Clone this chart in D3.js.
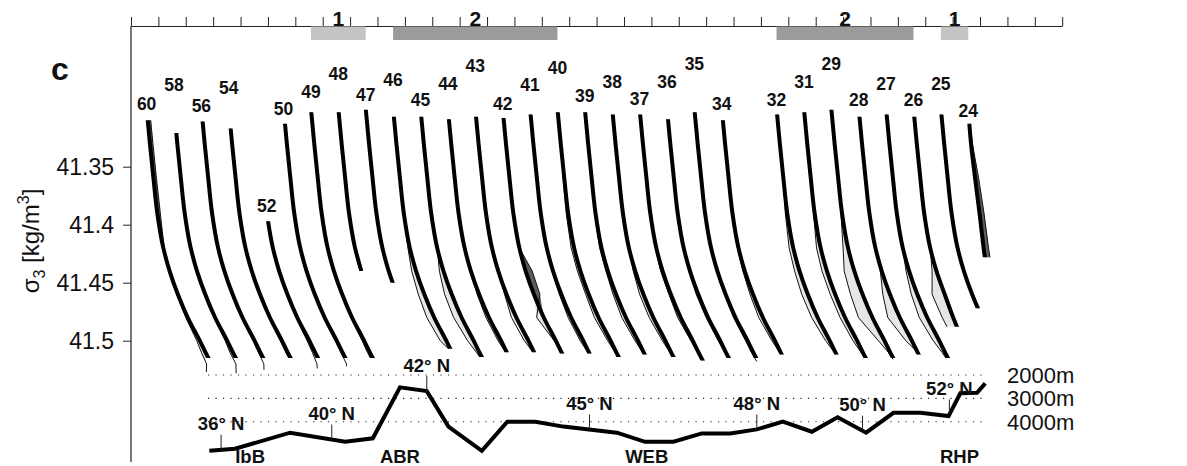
<!DOCTYPE html>
<html>
<head>
<meta charset="utf-8">
<script src="https://cdn.jsdelivr.net/npm/d3@7"></script>
<style>
  html, body { margin: 0; padding: 0; background: #fff; }
  svg { display: block; font-family: "Liberation Sans", Arial, Helvetica, sans-serif; }
</style>
</head>
<body>
<svg id="chart" width="1187" height="466"></svg>
<script>
// σ3 levels (kg/m3) at which every profile is tabulated
const sigmaLevels = [41.30, 41.33, 41.36, 41.39, 41.42, 41.44, 41.46, 41.48, 41.50, 41.51, 41.52, 41.53];

// stations along the section (south to north) and their slot on the station axis
const stationIds  = [60, 58, 56, 54, 52, 50, 49, 48, 47, 46, 45, 44, 43, 42, 41, 40, 39, 38, 37, 36, 35, 34, 32, 31, 29, 28, 27, 26, 25, 24];
const stationSlot = [0, 1, 2, 3, 4, 5, 6, 7, 8, 9, 10, 11, 12, 13, 14, 15, 16, 17, 18, 19, 20, 21, 23, 24, 25, 26, 27, 28, 29, 30];

// σ3 range covered by each profile (thick = recent occupation, thin = earlier one)
const sigmaTop    = [41.310, 41.321, 41.311, 41.317, 41.397, 41.313, 41.303, 41.303, 41.301, 41.307, 41.307, 41.309, 41.307, 41.308, 41.305, 41.303, 41.303, 41.305, 41.305, 41.309, 41.303, 41.310, 41.305, 41.303, 41.301, 41.307, 41.305, 41.307, 41.305, 41.313];
const sigmaBottom = [41.515, 41.515, 41.515, 41.515, 41.515, 41.515, 41.515, 41.440, 41.450, 41.507, 41.514, 41.510, 41.510, 41.511, 41.511, 41.514, 41.512, 41.514, 41.517, 41.515, 41.515, 41.512, 41.512, 41.515, 41.515, 41.512, 41.515, 41.488, 41.472, 41.428];
const thinBottom  = [41.527, 41.528, 41.525, 41.515, 41.524, 41.522, 41.515, 41.440, 41.450, 41.507, 41.514, 41.510, 41.510, 41.511, 41.511, 41.514, 41.512, 41.514, 41.517, 41.515, 41.518, 41.512, 41.512, 41.515, 41.516, 41.512, 41.515, 41.488, 41.472, 41.428];

// profile value at each σ3 level, in station-spacing units (one row per station)
const thickProfiles = [
  [0, 0.12, 0.25, 0.39, 0.61, 0.84, 1.14, 1.50, 1.94, 2.15, 2.37, null],
  [0, 0.12, 0.25, 0.39, 0.61, 0.84, 1.14, 1.50, 1.94, 2.15, 2.37, null],
  [0, 0.12, 0.25, 0.39, 0.61, 0.84, 1.14, 1.50, 1.94, 2.15, 2.37, null],
  [0, 0.12, 0.25, 0.39, 0.61, 0.84, 1.14, 1.50, 1.94, 2.15, 2.37, null],
  [null, null, null, 0.39, 0.61, 0.84, 1.14, 1.50, 1.94, 2.15, 2.37, null],
  [0, 0.12, 0.25, 0.39, 0.61, 0.84, 1.14, 1.50, 1.94, 2.15, 2.37, null],
  [0, 0.12, 0.25, 0.39, 0.61, 0.84, 1.14, 1.50, 1.94, 2.15, 2.37, null],
  [0, 0.12, 0.25, 0.39, 0.61, 0.84, null, null, null, null, null, null],
  [0, 0.12, 0.25, 0.39, 0.61, 0.84, 1.14, null, null, null, null, null],
  [0, 0.12, 0.25, 0.39, 0.61, 0.84, 1.14, 1.50, 1.94, 2.15, 2.37, null],
  [0, 0.12, 0.25, 0.39, 0.61, 0.84, 1.14, 1.50, 1.94, 2.15, 2.37, null],
  [0, 0.12, 0.25, 0.39, 0.61, 0.84, 1.14, 1.50, 1.94, 2.15, 2.37, null],
  [0, 0.12, 0.25, 0.39, 0.61, 0.84, 1.14, 1.50, 1.94, 2.15, 2.37, null],
  [0, 0.12, 0.25, 0.39, 0.61, 0.84, 1.14, 1.50, 1.94, 2.15, 2.37, null],
  [0, 0.12, 0.25, 0.39, 0.61, 0.84, 1.14, 1.50, 1.94, 2.15, 2.37, null],
  [0, 0.12, 0.25, 0.39, 0.61, 0.84, 1.14, 1.50, 1.94, 2.15, 2.37, null],
  [0, 0.12, 0.25, 0.39, 0.61, 0.84, 1.14, 1.50, 1.94, 2.15, 2.37, null],
  [0, 0.12, 0.25, 0.39, 0.61, 0.84, 1.14, 1.50, 1.94, 2.15, 2.37, null],
  [0, 0.12, 0.25, 0.39, 0.61, 0.84, 1.14, 1.50, 1.94, 2.15, 2.37, null],
  [0, 0.12, 0.25, 0.39, 0.61, 0.84, 1.14, 1.50, 1.94, 2.15, 2.37, null],
  [0, 0.12, 0.25, 0.39, 0.61, 0.84, 1.14, 1.50, 1.94, 2.15, 2.37, null],
  [0, 0.12, 0.25, 0.39, 0.61, 0.84, 1.14, 1.50, 1.94, 2.15, 2.37, null],
  [0, 0.12, 0.25, 0.39, 0.61, 0.84, 1.14, 1.50, 1.94, 2.15, 2.37, null],
  [0, 0.12, 0.25, 0.39, 0.61, 0.84, 1.14, 1.50, 1.94, 2.15, 2.37, null],
  [0, 0.12, 0.25, 0.39, 0.61, 0.84, 1.14, 1.50, 1.94, 2.15, 2.37, null],
  [0, 0.12, 0.25, 0.39, 0.61, 0.84, 1.14, 1.50, 1.94, 2.15, 2.37, null],
  [0, 0.12, 0.25, 0.39, 0.61, 0.84, 1.14, 1.50, 1.94, 2.15, 2.37, null],
  [0, 0.12, 0.25, 0.39, 0.61, 0.84, 1.14, 1.45, 1.80, null, null, null],
  [0, 0.12, 0.25, 0.39, 0.61, 0.84, 1.14, 1.50, null, null, null, null],
  [0, 0.10, 0.25, 0.41, 0.56, 0.67, null, null, null, null, null, null]
];
const thinProfiles = [
  [0.11, 0.23, 0.36, 0.50, 0.64, 0.84, 1.10, 1.43, 1.83, 2.00, 2.19, 2.18],
  [0, 0.12, 0.25, 0.39, 0.61, 0.84, 1.10, 1.46, 1.87, 2.04, 2.26, 2.27],
  [0, 0.12, 0.25, 0.39, 0.61, 0.84, 1.13, 1.47, 1.89, 2.08, 2.28, 2.29],
  [0, 0.12, 0.25, 0.39, 0.61, 0.84, 1.13, 1.47, 1.88, 2.08, 2.30, null],
  [null, null, null, 0.39, 0.61, 0.84, 1.12, 1.45, 1.86, 2.05, 2.22, 2.24],
  [0, 0.12, 0.25, 0.39, 0.61, 0.84, 1.13, 1.47, 1.89, 2.09, 2.30, 2.31],
  [0, 0.12, 0.25, 0.39, 0.61, 0.84, 1.13, 1.46, 1.87, 2.06, 2.28, null],
  [0, 0.12, 0.25, 0.39, 0.61, 0.84, null, null, null, null, null, null],
  [0, 0.12, 0.25, 0.39, 0.61, 0.84, 1.14, null, null, null, null, null],
  [0, 0.12, 0.25, 0.39, 0.54, 0.68, 0.92, 1.23, 1.72, 2.15, 2.37, null],
  [0, 0.12, 0.25, 0.39, 0.61, 0.69, 0.88, 1.21, 1.72, 2.04, 2.33, null],
  [0, 0.12, 0.25, 0.39, 0.61, 0.84, 1.07, 1.39, 1.83, 2.11, 2.37, null],
  [0, 0.12, 0.25, 0.39, 0.61, 0.84, 1.07, 1.32, 1.79, 2.11, 2.37, null],
  [0, 0.12, 0.25, 0.39, 0.61, 1.08, 1.36, 1.24, 1.88, 2.15, 2.37, null],
  [0, 0.12, 0.25, 0.39, 0.61, 0.80, 1.07, 1.39, 1.83, 2.11, 2.37, null],
  [0, 0.12, 0.21, 0.32, 0.50, 0.73, 1.03, 1.35, 1.83, 2.11, 2.37, null],
  [0, 0.12, 0.25, 0.35, 0.54, 0.77, 1.03, 1.35, 1.83, 2.11, 2.37, null],
  [0, 0.12, 0.25, 0.39, 0.61, 0.77, 1.00, 1.35, 1.83, 2.11, 2.37, null],
  [0, 0.12, 0.25, 0.39, 0.57, 0.77, 1.07, 1.39, 1.87, 2.11, 2.37, null],
  [0, 0.12, 0.25, 0.39, 0.61, 0.80, 1.07, 1.43, 1.87, 2.11, 2.37, null],
  [0, 0.12, 0.25, 0.39, 0.61, 0.84, 1.10, 1.43, 1.87, 2.08, 2.33, null],
  [0, 0.12, 0.25, 0.39, 0.57, 0.77, 1.03, 1.35, 1.83, 2.11, 2.37, null],
  [0, 0.12, 0.25, 0.32, 0.46, 0.66, 0.92, 1.28, 1.79, 2.11, 2.37, null],
  [0, 0.12, 0.25, 0.35, 0.46, 0.66, 0.96, 1.32, 1.79, 2.08, 2.37, null],
  [0, 0.12, 0.25, 0.35, 0.43, 0.47, 0.70, 0.99, 1.72, 2.08, 2.37, null],
  [0, 0.12, 0.25, 0.39, 0.61, 0.79, 0.88, 1.06, 1.72, 2.15, 2.37, null],
  [0, 0.12, 0.25, 0.39, 0.61, 0.73, 0.92, 1.21, 1.72, 2.04, 2.33, null],
  [0, 0.12, 0.25, 0.39, 0.61, 0.68, 0.68, 1.05, 1.48, null, null, null],
  [0, 0.12, 0.25, 0.39, 0.61, 0.84, 1.14, 1.50, null, null, null, null],
  [0, 0.15, 0.38, 0.575, 0.74, 0.87, null, null, null, null, null, null]
];

// σ3 at which each station number is written
const labelSigma = [41.301, 41.285, 41.303, 41.287, 41.389, 41.305, 41.291, 41.275, 41.293, 41.280, 41.298, 41.284, 41.268, 41.301, 41.285, 41.270, 41.294, 41.282, 41.297, 41.282, 41.267, 41.301, 41.298, 41.282, 41.267, 41.298, 41.284, 41.298, 41.284, 41.307];

// station groups marked along the top axis
const groupFrom  = [49, 46, 32, 25];
const groupTo    = [47, 40, 26, 24];
const groupClass = [1, 2, 2, 1];

// bottom topography along the section (station-axis position, depth in m)
const bathyPos   = [2.86, 3.80, 5.81, 7.82, 8.83, 9.82, 10.80, 11.59, 12.81, 13.74, 14.76, 15.79, 17.74, 18.77, 19.81, 20.84, 21.88, 22.85, 23.80, 24.86, 25.80, 26.84, 27.84, 28.82, 29.85, 30.28, 30.89, 31.19];
const bathyDepth = [5240, 5160, 4470, 4860, 4710, 2530, 2690, 4210, 5250, 4000, 4000, 4210, 4470, 4860, 4860, 4500, 4500, 4330, 4000, 4430, 3810, 4470, 3620, 3620, 3760, 2780, 2760, 2360];

// latitude marks on the topography
const latPos    = [3.29, 7.33, 10.80, 16.74, 22.85, 26.71, 29.88];
const latLabels = ["36° N", "40° N", "42° N", "45° N", "48° N", "50° N", "52° N"];

// reference depths drawn as dotted lines
const depthLines  = [2000, 3000, 4000];
const depthLabels = ["2000m", "3000m", "4000m"];

// basins and ridges along the section
const regionNames = ["IbB", "ABR", "WEB", "RHP"];
const regionPos   = [4.35, 9.82, 18.83, 30.25];

const yTicks = [41.35, 41.4, 41.45, 41.5];

// ---------------------------------------------------------------------------
const W = 1187, H = 466;
const svg = d3.select("#chart");
const defs = svg.append("defs");

const profileOrigin = 0.57;           // profiles start just right of their station tick
const xSlot  = d3.scaleLinear().domain([0, 34]).range([131, 1062.2]);
const ySig   = d3.scaleLinear().domain([41.35, 41.5]).range([166.7, 340.7]);
const yDepth = d3.scaleLinear().domain([2000, 4000]).range([375, 421.7]);
const bathyAt = d3.scaleLinear().domain(bathyPos).range(bathyDepth);

const LIGHT = "#e6e6e6", DARK = "#5c5c5c";

// station axis along the top
svg.append("g")
  .attr("transform", "translate(0,26)")
  .call(d3.axisTop(xSlot).tickValues(d3.range(0, 35)).tickSize(9).tickSizeOuter(0).tickFormat(""))
  .call(g => g.select(".domain").attr("stroke", "#222").attr("stroke-width", 1))
  .call(g => g.selectAll(".tick line").attr("stroke", "#222"));

// group bars under the top axis
groupFrom.forEach((s, i) => {
  const a = stationSlot[stationIds.indexOf(s)] + profileOrigin;
  const b = stationSlot[stationIds.indexOf(groupTo[i])] + profileOrigin;
  const x0 = xSlot(a), x1 = xSlot(b);
  svg.append("rect")
    .attr("x", x0).attr("y", 26.5).attr("width", x1 - x0).attr("height", 13.5)
    .attr("fill", groupClass[i] === 1 ? "#c4c4c4" : "#9b9b9b");
  svg.append("text")
    .attr("x", (x0 + x1) / 2).attr("y", 26)
    .attr("text-anchor", "middle")
    .attr("font-size", 21).attr("font-weight", "bold").attr("fill", "#111")
    .text(groupClass[i]);
});

// left frame line
svg.append("line")
  .attr("x1", 131).attr("x2", 131).attr("y1", 26).attr("y2", 462)
  .attr("stroke", "#555").attr("stroke-width", 1.6);

// σ3 axis
svg.append("g")
  .attr("transform", "translate(131,0)")
  .call(d3.axisLeft(ySig).tickValues(yTicks).tickSize(8).tickPadding(9)
        .tickFormat(d => String(+d.toFixed(2))))
  .call(g => g.select(".domain").remove())
  .call(g => g.selectAll(".tick line").attr("stroke", "#222"))
  .call(g => g.selectAll(".tick text")
        .attr("font-size", 23).attr("fill", "#111")
        .attr("font-family", "Liberation Sans, Arial, sans-serif"));

// axis title
const yt = svg.append("text")
  .attr("transform", "translate(39,241) rotate(-90)")
  .attr("text-anchor", "middle")
  .attr("font-size", 24).attr("fill", "#111");
yt.append("tspan").text("σ");
yt.append("tspan").attr("dy", 6).attr("font-size", 16).text("3");
yt.append("tspan").attr("dy", -6).text(" [kg/m");
yt.append("tspan").attr("dy", -10).attr("font-size", 16).text("3");
yt.append("tspan").attr("dy", 10).text("]");

// panel letter
svg.append("text")
  .attr("x", 51).attr("y", 80)
  .attr("font-size", 32).attr("font-weight", "bold").attr("fill", "#111")
  .text("c");

// ---- profiles ----
const gProf = svg.append("g");

function clipRect(id, s0, s1) {
  defs.append("clipPath").attr("id", id)
    .append("rect")
    .attr("x", 0).attr("width", W)
    .attr("y", ySig(s0)).attr("height", ySig(s1) - ySig(s0));
  return `url(#${id})`;
}

stationIds.forEach((id, i) => {
  const base = stationSlot[i] + profileOrigin;
  const thick = thickProfiles[i], thin = thinProfiles[i];
  const pts = sigmaLevels.map((s, j) => ({ s, a: thick[j], b: thin[j] }));
  const g = gProf.append("g");

  const fillBottom = Math.min(sigmaBottom[i], thinBottom[i]);
  const both = d => d.a != null && d.b != null;

  const gFill = g.append("g").attr("clip-path", clipRect(`f${id}`, sigmaTop[i], fillBottom));
  // earlier profile to the left of the recent one
  gFill.append("path")
    .attr("d", d3.area().defined(both)
      .y(d => ySig(d.s))
      .x0(d => xSlot(base + Math.min(d.a, d.b)))
      .x1(d => xSlot(base + d.a))(pts))
    .attr("fill", LIGHT).attr("stroke", "none");
  // earlier profile to the right of the recent one
  gFill.append("path")
    .attr("d", d3.area().defined(both)
      .y(d => ySig(d.s))
      .x0(d => xSlot(base + d.a))
      .x1(d => xSlot(base + Math.max(d.a, d.b)))(pts))
    .attr("fill", DARK).attr("stroke", "none");

  g.append("path")
    .attr("clip-path", clipRect(`t${id}`, sigmaTop[i], thinBottom[i]))
    .attr("d", d3.line().defined(d => d.b != null)
      .x(d => xSlot(base + d.b)).y(d => ySig(d.s))(pts))
    .attr("fill", "none").attr("stroke", "#111").attr("stroke-width", 1);

  g.append("path")
    .attr("clip-path", clipRect(`k${id}`, sigmaTop[i], sigmaBottom[i]))
    .attr("d", d3.line().defined(d => d.a != null)
      .curve(d3.curveMonotoneY)
      .x(d => xSlot(base + d.a)).y(d => ySig(d.s))(pts))
    .attr("fill", "none").attr("stroke", "#000").attr("stroke-width", 4);

  const firstVal = thick.find(v => v != null);
  svg.append("text")
    .attr("x", xSlot(base + firstVal)).attr("y", ySig(labelSigma[i]))
    .attr("text-anchor", "middle")
    .attr("font-size", 17.5).attr("font-weight", "bold").attr("fill", "#111")
    .text(id);
});

// ---- topography panel ----
const gridX0 = xSlot(2.81), gridX1 = xSlot(31.12);
depthLines.forEach((d, i) => {
  svg.append("line")
    .attr("x1", gridX0).attr("x2", gridX1)
    .attr("y1", yDepth(d)).attr("y2", yDepth(d))
    .attr("stroke", "#222").attr("stroke-width", 1.1)
    .attr("stroke-dasharray", "1.2,6.3");
  svg.append("text")
    .attr("x", 1007).attr("y", yDepth(d) + 8)
    .attr("font-size", 22).attr("fill", "#111")
    .text(depthLabels[i]);
});

svg.append("path")
  .attr("d", d3.line().x(d => xSlot(d[0])).y(d => yDepth(d[1]))(bathyPos.map((p, i) => [p, bathyDepth[i]])))
  .attr("fill", "none").attr("stroke", "#000").attr("stroke-width", 4)
  .attr("stroke-linejoin", "miter");

latPos.forEach((p, i) => {
  const yb = yDepth(bathyAt(p));
  svg.append("line")
    .attr("x1", xSlot(p)).attr("x2", xSlot(p))
    .attr("y1", yb - 15).attr("y2", yb)
    .attr("stroke", "#222").attr("stroke-width", 1);
  svg.append("text")
    .attr("x", xSlot(p)).attr("y", yb - 19.5)
    .attr("text-anchor", "middle")
    .attr("font-size", 18.5).attr("font-weight", "bold").attr("fill", "#111")
    .text(latLabels[i]);
});

regionNames.forEach((n, i) => {
  svg.append("text")
    .attr("x", xSlot(regionPos[i])).attr("y", 463)
    .attr("text-anchor", "middle")
    .attr("font-size", 18.5).attr("font-weight", "bold").attr("fill", "#111")
    .text(n);
});
</script>
</body>
</html>
